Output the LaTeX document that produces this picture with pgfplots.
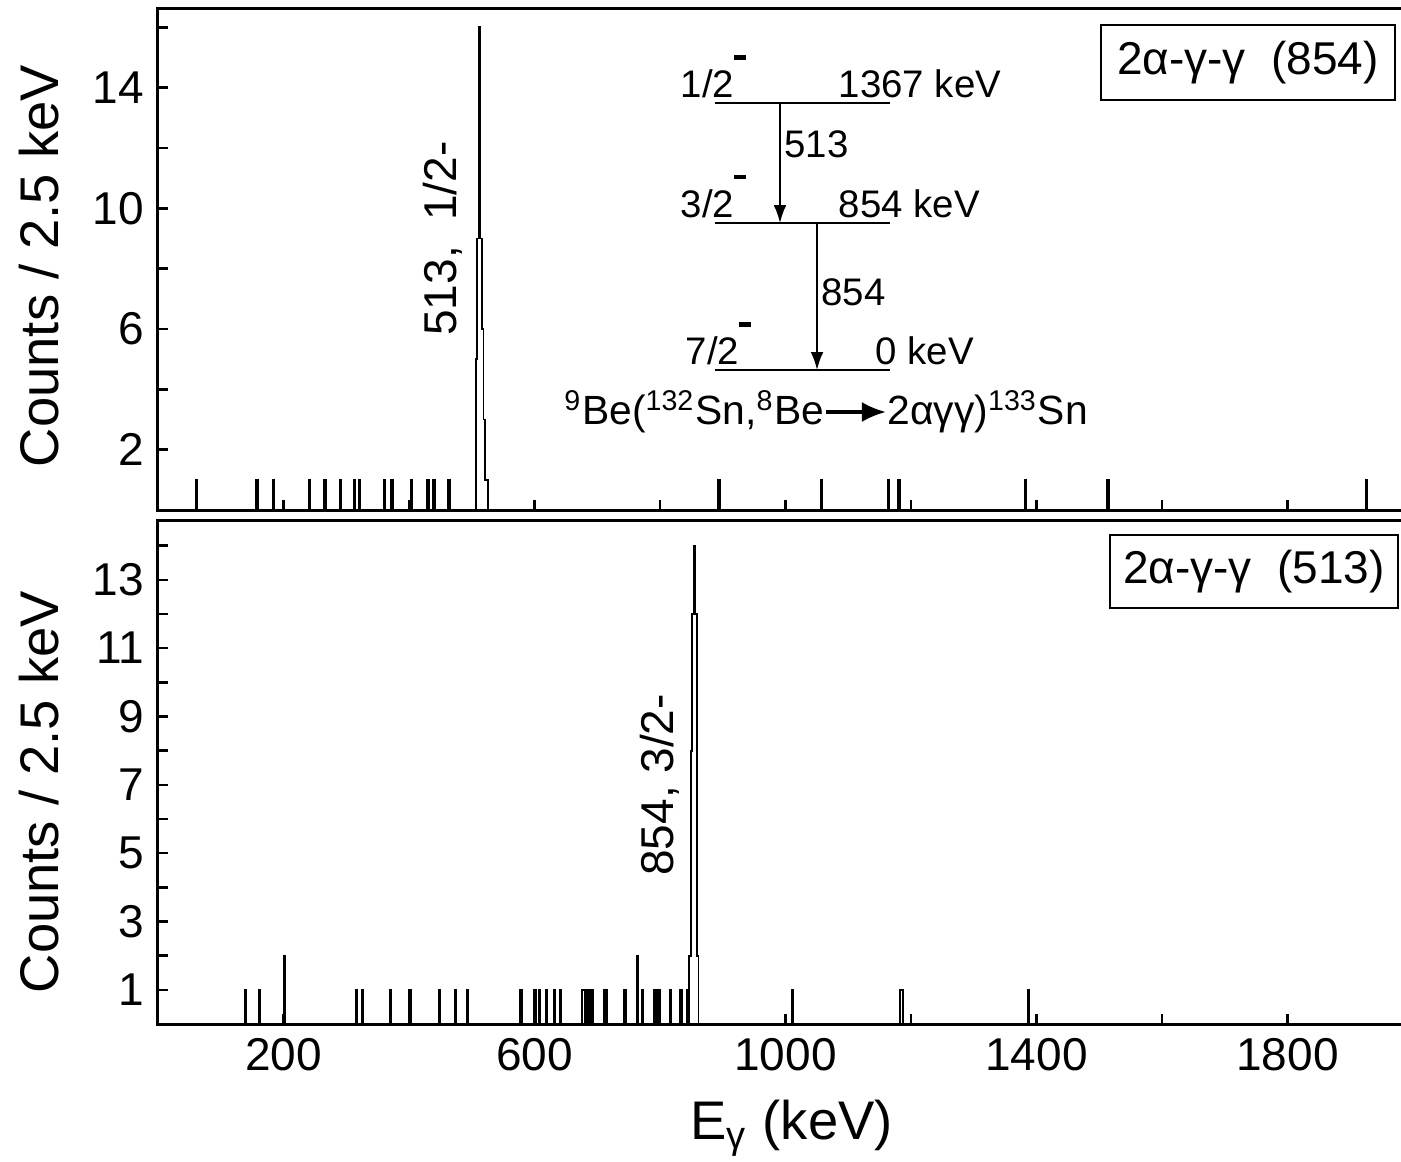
\documentclass[border=0pt]{standalone}
\usepackage{fontspec}
\setmainfont{Liberation Sans}
\usepackage{pgfplots}
\pgfplotsset{compat=1.18}
\usetikzlibrary{arrows.meta}
\newcommand\minus{\raisebox{1.0em}{\rule{3pt}{1.1pt}}}
\begin{document}
\begin{tikzpicture}
\useasboundingbox (-39.5pt,-34.25pt) rectangle (310.75pt,256pt);
\pgfplotsset{
  every axis/.append style={
    scale only axis, width=312pt, xmin=0, xmax=1988.8,
    axis line style={line width=0.75pt},
    every tick/.style={black, line width=0.6pt},
    major tick length=2.4pt, minor tick length=2.4pt,
    tick pos=left, tick align=inside,
    /pgf/number format/assume math mode=true,
    /pgf/number format/set thousands separator={},
    tick label style={font=\fontsize{11.5}{13}\selectfont},
    label style={font=\fontsize{13.6}{15}\selectfont},
    clip=false,
  }
}
% ---------------- top panel ----------------
\begin{axis}[at={(0pt,128.5pt)}, anchor=south west, height=125.5pt,
  ymin=0, ymax=16.64,
  xtick={200,400,...,1800}, xticklabels={},
  ytick={2,6,10,14}, minor ytick={4,8,12,16},
  ylabel={Counts / 2.5 keV},
  y label style={at={(axis description cs:-0.095,0.486)}, anchor=center}]
% isolated single counts (bin width 2.5 keV)
\addplot[ybar, bar width=2.5, draw=black, fill=white, line width=0.45pt] coordinates {
(61.7,1) (158,1) (184,1) (241,1) (266,1) (291,1) (313,1) (321,1) (361,1) (373,1)
(404,1) (430,1) (440,1) (464,1)
(894,1) (1057,1) (1164,1) (1181,1) (1382,1) (1514,1) (1926,1)
};
% 513 keV peak, step outline (left bin edge, counts)
\addplot[const plot, draw=black, line width=0.45pt, mark=none] coordinates {
(506.25,0) (506.25,5) (508.75,9) (511.25,16) (513.75,9) (516.25,6) (518.75,3) (521.25,1) (526.25,1) (526.25,0)
};
\node[rotate=90, font=\fontsize{11.5}{13}\selectfont] at (axis cs:454,9.0) {513,\ \ 1/2-};
% level scheme
\draw[line width=0.5pt] (axis cs:887.6,13.49) -- (axis cs:1166.5,13.49);
\draw[line width=0.5pt] (axis cs:887.6,9.51) -- (axis cs:1166.5,9.51);
\draw[line width=0.5pt] (axis cs:887.6,4.64) -- (axis cs:1166.5,4.64);
\draw[line width=0.5pt, -{Latex[length=4.5pt,width=3.2pt]}] (axis cs:991.2,13.49) -- (axis cs:991.2,9.51);
\draw[line width=0.5pt, -{Latex[length=4.5pt,width=3.2pt]}] (axis cs:1050.2,9.51) -- (axis cs:1050.2,4.64);
\begin{scope}[every node/.style={font=\fontsize{9.6}{11}\selectfont, inner sep=0pt}]
\node[anchor=base west] at (axis cs:831.9,13.66) {1/2\minus};
\node[anchor=base west] at (axis cs:1083.7,13.66) {1367 keV};
\node[anchor=west] at (axis cs:997,12.13) {513};
\node[anchor=base west] at (axis cs:831.9,9.69) {3/2\minus};
\node[anchor=base west] at (axis cs:1083.7,9.69) {854 keV};
\node[anchor=west] at (axis cs:1056,7.23) {854};
\node[anchor=base west] at (axis cs:839.8,4.81) {7/2\minus};
\node[anchor=base west] at (axis cs:1142.6,4.81) {0 keV};
\end{scope}
\node[anchor=base, inner sep=0pt, font=\fontsize{10.2}{12}\selectfont] at (axis cs:1064.5,2.82)
  {\textsuperscript{9}Be(\textsuperscript{132}Sn,\textsuperscript{8}Be\tikz[baseline=-0.6ex]\draw[line width=0.8pt,-{Latex[length=6pt,width=5pt]}](0,0)--(15pt,0);2αγγ)\textsuperscript{133}Sn};
\node[draw, line width=0.6pt, minimum width=73.5pt, minimum height=18.75pt, inner sep=0pt,
  font=\fontsize{11.5}{13}\selectfont] at (axis cs:1737,14.83) {2α-γ-γ\ \ (854)};
\end{axis}
% ---------------- bottom panel ----------------
\begin{axis}[at={(0pt,0pt)}, anchor=south west, height=126pt,
  ymin=0, ymax=14.75,
  xtick={200,600,1000,1400,1800}, minor xtick={400,800,1200,1600},
  ytick={1,3,...,13}, minor ytick={2,4,...,14},
  xlabel={E\textsubscript{γ} (keV)},
  x label style={at={(axis description cs:0.5077,-0.23)}, anchor=base},
  ylabel={Counts / 2.5 keV},
  y label style={at={(axis description cs:-0.095,0.46)}, anchor=center}]
\addplot[ybar, bar width=2.5, draw=black, fill=white, line width=0.45pt] coordinates {
(139.8,1) (161.4,1) (201.3,2) (316.7,1) (326.2,1) (370.8,1) (401.6,1) (448.3,1)
(473.8,1) (493.5,1) (578.5,1) (600.8,1) (607.7,1) (619.4,1) (631.6,1) (641.7,1)
(681.25,1) (683.75,1) (686.25,1) (688.75,1)
(711.25,1) (713.75,1) (744.2,1) (763.8,2) (772.4,1)
(791.25,1) (793.75,1) (796.25,1) (798.75,1) (817,1) (833.5,1) (844,1)
(1011.4,1) (1387,1)
};
% cluster outline near 685 keV
\addplot[const plot, draw=black, line width=0.45pt, mark=none] coordinates {
(676.25,0) (676.25,1) (693.75,1) (693.75,0)
};
% cluster near 1185 keV
\addplot[const plot, draw=black, line width=0.45pt, mark=none] coordinates {
(1182.5,0) (1182.5,1) (1187.5,1) (1187.5,0)
};
% 854 keV peak, step outline
\addplot[const plot, draw=black, line width=0.45pt, mark=none] coordinates {
(846.25,0) (846.25,2) (848.75,8) (851.25,12) (853.75,14) (856.25,12) (858.75,2) (861.25,2) (861.25,0)
};
\node[rotate=90, font=\fontsize{11.5}{13}\selectfont] at (axis cs:800,7.0) {854, 3/2-};
\node[draw, line width=0.6pt, minimum width=72pt, minimum height=18.25pt, inner sep=0pt,
  font=\fontsize{11.5}{13}\selectfont] at (axis cs:1746.6,13.24) {2α-γ-γ\ \ (513)};
\end{axis}
\end{tikzpicture}
\end{document}
